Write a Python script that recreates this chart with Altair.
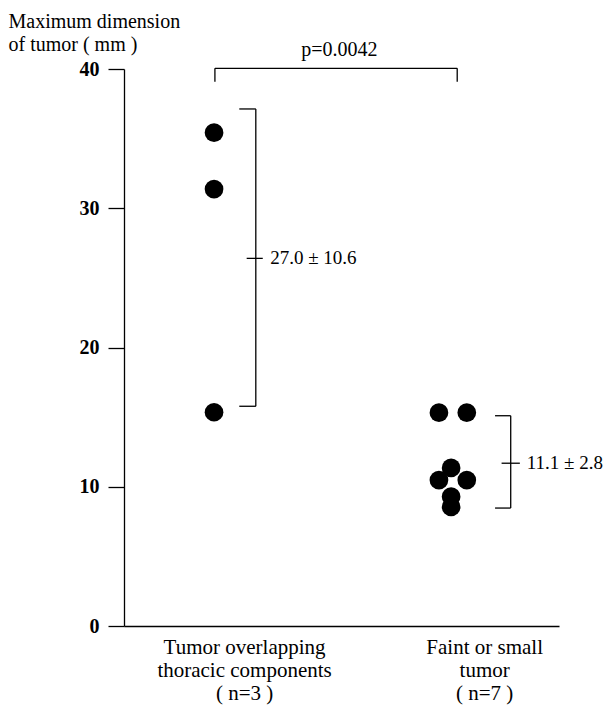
import altair as alt
import pandas as pd

# ---- data ----
pt_x = [2.07, 2.07, 2.07, 7.24, 7.88, 7.52, 7.24, 7.88, 7.52, 7.52]
pt_y = [35.43, 31.38, 15.35, 15.32, 15.32, 11.35, 10.48, 10.48, 9.29, 8.55]

# bracket segments (x1, x2, y1, y2) in data units
seg_x1 = [3.03, 2.65, 2.65, 2.82, 8.89, 8.53, 8.53, 8.68, 2.09, 2.09, 7.66]
seg_x2 = [3.03, 3.03, 3.03, 3.19, 8.89, 8.89, 8.89, 9.10, 7.66, 2.09, 7.66]
seg_y1 = [37.13, 37.13, 15.78, 26.4, 15.10, 15.10, 8.47, 11.69, 40.05, 40.05, 40.05]
seg_y2 = [15.78, 37.13, 15.78, 26.4, 8.47, 15.10, 8.47, 11.69, 40.05, 39.09, 39.09]

ann_text = ["27.0 ± 10.6", "11.1 ± 2.8"]
ann_x = [3.36, 9.26]
ann_y = [26.4, 11.69]

p_text = ["p=0.0042"]
p_x = [4.95]
p_y = [40.93]

cat_pos = [2.76, 8.28]
cat_labels = [["Tumor overlapping", "thoracic components", "( n=3 )"],
              ["Faint or small", "tumor", "( n=7 )"]]
y_ticks = [0, 10, 20, 30, 40]
y_title = ["Maximum dimension", "of tumor ( mm )"]

pts = pd.DataFrame({"x": pt_x, "y": pt_y})
segs = pd.DataFrame({"x1": seg_x1, "x2": seg_x2, "y1": seg_y1, "y2": seg_y2})
ann = pd.DataFrame({"t": ann_text, "x": ann_x, "y": ann_y})
pv = pd.DataFrame({"t": p_text, "x": p_x, "y": p_y})

def arr(lines):
    return "[" + ",".join("'" + s + "'" for s in lines) + "]"

label_expr = f"datum.value < 5 ? {arr(cat_labels[0])} : {arr(cat_labels[1])}"

font = "Liberation Serif"

xscale = alt.Scale(domain=[0, 10], nice=False, zero=False)
yscale = alt.Scale(domain=[0, 40], nice=False)

xaxis = alt.Axis(values=cat_pos, labelExpr=label_expr, title=None, ticks=False,
                 grid=False, domainColor="black", domainWidth=1.3,
                 labelFont=font, labelFontSize=21, labelColor="black",
                 labelLineHeight=23, labelPadding=10, labelAlign="center",
                 labelBaseline="top", labelOverlap=False, labelBound=False,
                 labelFlush=False, labelLimit=0)
yaxis = alt.Axis(values=y_ticks, title=y_title, grid=False,
                 domainColor="black", domainWidth=1.3,
                 tickColor="black", tickWidth=1.3, tickSize=16,
                 labelFont=font, labelFontSize=20, labelFontWeight="bold",
                 labelColor="black", labelPadding=9,
                 titleFont=font, titleFontSize=20, titleFontWeight="normal",
                 titleColor="black", titleAngle=0, titleAlign="left",
                 titleBaseline="alphabetic", titleX=-116, titleY=-42,
                 titleLineHeight=23, titleLimit=0)

points = alt.Chart(pts).mark_circle(size=350, color="black", opacity=1).encode(
    x=alt.X("x:Q", scale=xscale, axis=xaxis),
    y=alt.Y("y:Q", scale=yscale, axis=yaxis),
)

rules = alt.Chart(segs).mark_rule(color="black", strokeWidth=1.3).encode(
    x=alt.X("x1:Q", scale=xscale), x2="x2:Q",
    y=alt.Y("y1:Q", scale=yscale), y2="y2:Q",
)

anns = alt.Chart(ann).mark_text(font=font, fontSize=19, align="left",
                                baseline="middle", color="black").encode(
    x=alt.X("x:Q", scale=xscale), y=alt.Y("y:Q", scale=yscale), text="t:N")

pvt = alt.Chart(pv).mark_text(font=font, fontSize=20, align="center",
                              baseline="alphabetic", color="black").encode(
    x=alt.X("x:Q", scale=xscale), y=alt.Y("y:Q", scale=yscale), text="t:N")

chart = alt.layer(rules, points, anns, pvt).properties(
    width=435, height=557,
    autosize=alt.AutoSizeParams(type="none"),
    padding={"left": 116, "top": 61, "right": 44, "bottom": 79},
).configure_view(stroke=None)

chart.save("out.html", embed_options={"renderer": "svg", "actions": False})
